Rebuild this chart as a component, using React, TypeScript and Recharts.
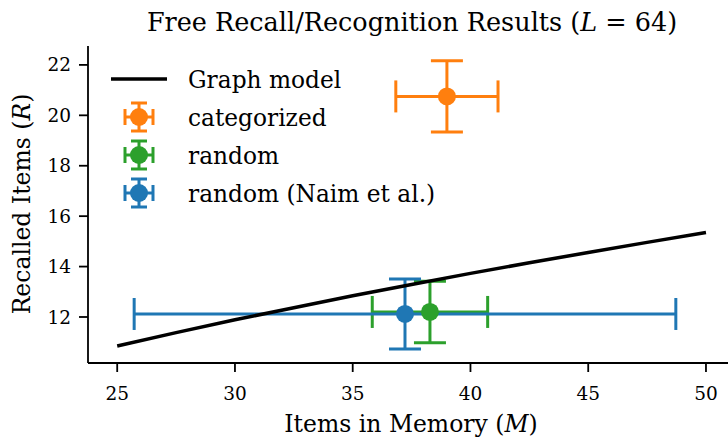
import React from "react";
import {
  ScatterChart,
  Scatter,
  XAxis,
  YAxis,
  ErrorBar,
  Customized,
} from "recharts";

// Theoretical recall curve sampled along memory size
const modelM = [25, 27.5, 30, 32.5, 35, 37.5, 40, 42.5, 45, 47.5, 50];
const modelR = [10.85, 11.38, 11.89, 12.37, 12.84, 13.29, 13.73, 14.15, 14.56, 14.96, 15.35];

// Experimental results: mean M, mean R and their spreads
const seriesNames = ["categorized", "random", "random (Naim et al.)"];
const seriesColors = ["#ff7f0e", "#2ca02c", "#1f77b4"];
const meanM = [39.0, 38.28, 37.22];
const meanR = [20.75, 12.2, 12.12];
const errM = [2.17, 2.45, 11.5];
const errR = [1.41, 1.22, 1.39];

const xTicks = [25, 30, 35, 40, 45, 50];
const yTicks = [12, 14, 16, 18, 20, 22];
const xDomain = [23.76, 51.19];
const yDomain = [10.175, 22.75];

const FONT = "DejaVu Serif";

const modelData = modelM.map((m, i) => ({ m, r: modelR[i] }));
const pointData = seriesNames.map((name, i) => [
  { m: meanM[i], r: meanR[i], em: errM[i], er: errR[i], name },
]);

const NoShape = () => <g />;

const Dot = (color: string) => (props: any) =>
  <circle cx={props.cx} cy={props.cy} r={9} fill={color} />;

const Texts = () => (
  <g fontFamily={FONT} fill="#000">
    <text x={412} y={22} textAnchor="middle" dominantBaseline="central" fontSize={25.5}>
      Free Recall/Recognition Results (<tspan fontStyle="italic">L</tspan> = 64)
    </text>
    <text x={411} y={424} textAnchor="middle" dominantBaseline="central" fontSize={23.5}>
      Items in Memory (<tspan fontStyle="italic">M</tspan>)
    </text>
    <text
      x={22}
      y={204}
      textAnchor="middle"
      dominantBaseline="central"
      fontSize={23.5}
      transform="rotate(-90 22 204)"
    >
      Recalled Items (<tspan fontStyle="italic">R</tspan>)
    </text>
  </g>
);

const LegendBox = () => {
  const rowY = [79, 117, 155, 193];
  const mx = 139;
  return (
    <g fontFamily={FONT} fontSize={23.3}>
      <line x1={111} x2={167} y1={rowY[0]} y2={rowY[0]} stroke="#000" strokeWidth={3.5} />
      <text x={188} y={rowY[0]} dominantBaseline="central">Graph model</text>
      {seriesNames.map((name, i) => {
        const y = rowY[i + 1];
        const c = seriesColors[i];
        return (
          <g key={name}>
            <g stroke={c} strokeWidth={3}>
              <line x1={mx - 14} x2={mx + 14} y1={y} y2={y} />
              <line x1={mx} x2={mx} y1={y - 14} y2={y + 14} />
              <line x1={mx - 8} x2={mx + 8} y1={y - 14} y2={y - 14} />
              <line x1={mx - 8} x2={mx + 8} y1={y + 14} y2={y + 14} />
              <line x1={mx - 14} x2={mx - 14} y1={y - 8} y2={y + 8} />
              <line x1={mx + 14} x2={mx + 14} y1={y - 8} y2={y + 8} />
            </g>
            <circle cx={mx} cy={y} r={9} fill={c} />
            <text x={188} y={y} dominantBaseline="central">{name}</text>
          </g>
        );
      })}
    </g>
  );
};

export default function App() {
  const tickStyle = { fontFamily: FONT, fontSize: 18.5, fill: "#000" };
  return (
    <div
      style={{
        position: "absolute",
        left: 0,
        top: 0,
        width: 728,
        height: 438,
        overflow: "hidden",
        background: "#fff",
      }}
    >
      <ScatterChart
        width={734}
        height={438}
        margin={{ top: 46, right: 0, bottom: 25, left: 0 }}
      >
        <XAxis
          type="number"
          dataKey="m"
          domain={xDomain}
          ticks={xTicks}
          allowDataOverflow
          height={50}
          tickSize={9}
          tickMargin={15}
          tick={tickStyle}
          axisLine={{ stroke: "#000", strokeWidth: 1.8 }}
          tickLine={{ stroke: "#000", strokeWidth: 1.8 }}
        />
        <XAxis
          xAxisId="top"
          orientation="top"
          type="number"
          dataKey="m"
          domain={xDomain}
          allowDataOverflow
          height={0}
          tick={false}
          tickLine={false}
          axisLine={{ stroke: "#000", strokeWidth: 1.8 }}
        />
        <YAxis
          type="number"
          dataKey="r"
          domain={yDomain}
          ticks={yTicks}
          allowDataOverflow
          width={88}
          tickSize={9}
          tickMargin={8}
          tick={tickStyle}
          axisLine={{ stroke: "#000", strokeWidth: 1.8 }}
          tickLine={{ stroke: "#000", strokeWidth: 1.8 }}
        />
        {pointData.map((d, i) => (
          <Scatter key={"eb" + i} data={d} shape={NoShape} isAnimationActive={false}>
            <ErrorBar dataKey="em" direction="x" width={16} stroke={seriesColors[i]} strokeWidth={3} />
            <ErrorBar dataKey="er" direction="y" width={16} stroke={seriesColors[i]} strokeWidth={3} />
          </Scatter>
        ))}
        <Scatter
          data={modelData}
          shape={NoShape}
          line={{ stroke: "#000", strokeWidth: 3.5 }}
          isAnimationActive={false}
        />
        {pointData.map((d, i) => (
          <Scatter key={"pt" + i} data={d} shape={Dot(seriesColors[i])} isAnimationActive={false} />
        ))}
        <Customized component={Texts} />
        <Customized component={LegendBox} />
      </ScatterChart>
    </div>
  );
}
